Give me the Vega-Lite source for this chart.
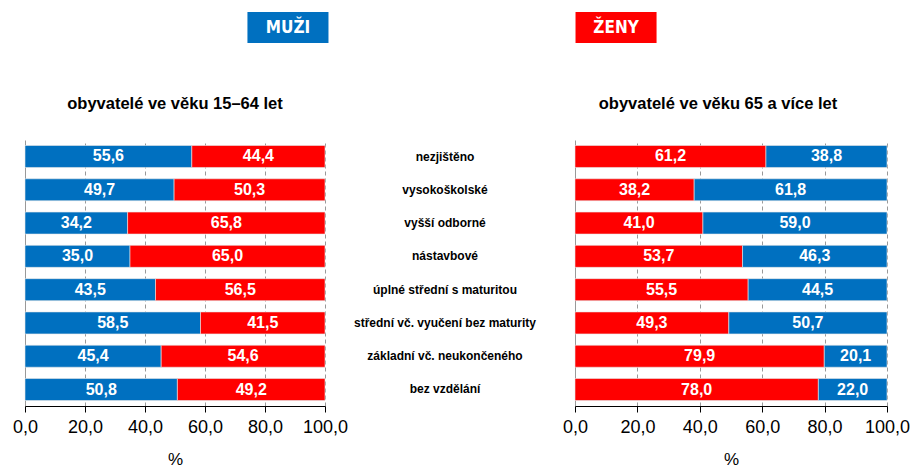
{
  "$schema": "https://vega.github.io/schema/vega-lite/v6.json",
  "padding": {"left": 12, "top": 12, "right": 0, "bottom": 0},
  "config": {
    "locale": {"number": {"decimal": ",", "thousands": " ", "grouping": [3], "currency": ["", " Kč"]}},
    "view": {"stroke": null},
    "font": "Liberation Sans"
  },
  "datasets": {
    "a": [
      {"cat": "nezjištěno", "sex": "muži", "o": 1, "v": 55.6},
      {"cat": "nezjištěno", "sex": "ženy", "o": 2, "v": 44.4},
      {"cat": "vysokoškolské", "sex": "muži", "o": 1, "v": 49.7},
      {"cat": "vysokoškolské", "sex": "ženy", "o": 2, "v": 50.3},
      {"cat": "vyšší odborné", "sex": "muži", "o": 1, "v": 34.2},
      {"cat": "vyšší odborné", "sex": "ženy", "o": 2, "v": 65.8},
      {"cat": "nástavbové", "sex": "muži", "o": 1, "v": 35.0},
      {"cat": "nástavbové", "sex": "ženy", "o": 2, "v": 65.0},
      {"cat": "úplné střední s maturitou", "sex": "muži", "o": 1, "v": 43.5},
      {"cat": "úplné střední s maturitou", "sex": "ženy", "o": 2, "v": 56.5},
      {"cat": "střední vč. vyučení bez maturity", "sex": "muži", "o": 1, "v": 58.5},
      {"cat": "střední vč. vyučení bez maturity", "sex": "ženy", "o": 2, "v": 41.5},
      {"cat": "základní vč. neukončeného", "sex": "muži", "o": 1, "v": 45.4},
      {"cat": "základní vč. neukončeného", "sex": "ženy", "o": 2, "v": 54.6},
      {"cat": "bez vzdělání", "sex": "muži", "o": 1, "v": 50.8},
      {"cat": "bez vzdělání", "sex": "ženy", "o": 2, "v": 49.2}
    ],
    "b": [
      {"cat": "nezjištěno", "sex": "ženy", "o": 1, "v": 61.2},
      {"cat": "nezjištěno", "sex": "muži", "o": 2, "v": 38.8},
      {"cat": "vysokoškolské", "sex": "ženy", "o": 1, "v": 38.2},
      {"cat": "vysokoškolské", "sex": "muži", "o": 2, "v": 61.8},
      {"cat": "vyšší odborné", "sex": "ženy", "o": 1, "v": 41.0},
      {"cat": "vyšší odborné", "sex": "muži", "o": 2, "v": 59.0},
      {"cat": "nástavbové", "sex": "ženy", "o": 1, "v": 53.7},
      {"cat": "nástavbové", "sex": "muži", "o": 2, "v": 46.3},
      {"cat": "úplné střední s maturitou", "sex": "ženy", "o": 1, "v": 55.5},
      {"cat": "úplné střední s maturitou", "sex": "muži", "o": 2, "v": 44.5},
      {"cat": "střední vč. vyučení bez maturity", "sex": "ženy", "o": 1, "v": 49.3},
      {"cat": "střední vč. vyučení bez maturity", "sex": "muži", "o": 2, "v": 50.7},
      {"cat": "základní vč. neukončeného", "sex": "ženy", "o": 1, "v": 79.9},
      {"cat": "základní vč. neukončeného", "sex": "muži", "o": 2, "v": 20.1},
      {"cat": "bez vzdělání", "sex": "ženy", "o": 1, "v": 78.0},
      {"cat": "bez vzdělání", "sex": "muži", "o": 2, "v": 22.0}
    ],
    "c": [
      {"cat": "nezjištěno"},
      {"cat": "vysokoškolské"},
      {"cat": "vyšší odborné"},
      {"cat": "nástavbové"},
      {"cat": "úplné střední s maturitou"},
      {"cat": "střední vč. vyučení bez maturity"},
      {"cat": "základní vč. neukončeného"},
      {"cat": "bez vzdělání"}
    ],
    "h": [
      {"g": "MUŽI"},
      {"g": "ŽENY"}
    ]
  },
  "spacing": 52,
  "vconcat": [
    {
      "data": {"name": "h"},
      "width": 854,
      "height": 31,
      "layer": [
        {
          "mark": {"type": "bar"},
          "encoding": {
            "x": {"field": "g", "type": "nominal", "scale": {"domain": ["MUŽI", "ŽENY"], "paddingInner": 0.753, "paddingOuter": 0.678}, "axis": null},
            "color": {"field": "g", "type": "nominal", "scale": {"domain": ["MUŽI", "ŽENY"], "range": ["#0070C0", "#FF0000"]}, "legend": null}
          }
        },
        {
          "mark": {"type": "text", "color": "white", "fontWeight": "bold", "fontSize": 17, "font": "Liberation Sans Narrow, DejaVu Sans Condensed, Liberation Sans"},
          "encoding": {
            "x": {"field": "g", "type": "nominal", "axis": null},
            "text": {"field": "g"}
          }
        }
      ]
    },
    {
      "spacing": 0,
      "bounds": "flush",
      "hconcat": [
        {
          "data": {"name": "a"},
          "width": 300,
          "height": 266,
          "title": {"text": "obyvatelé ve věku 15–64 let", "fontSize": 16.5, "fontWeight": "bold", "anchor": "middle", "offset": 28, "font": "Liberation Sans"},
          "encoding": {
            "y": {"field": "cat", "type": "nominal", "sort": null, "scale": {"paddingInner": 0.34, "paddingOuter": 0.165}, "axis": null}
          },
          "layer": [
            {
              "mark": {"type": "bar", "stroke": "#e8e8e8", "strokeWidth": 0.6},
              "encoding": {
                "x": {"field": "v", "type": "quantitative", "stack": "zero", "scale": {"domain": [0, 100]},
                  "axis": {"values": [0, 20, 40, 60, 80, 100], "format": ".1f", "title": "%", "titleFontSize": 17, "titleFontWeight": "normal", "titleColor": "black", "labelFontSize": 18, "labelColor": "black", "domainColor": "black", "tickColor": "black", "tickSize": 6, "labelPadding": 6, "titlePadding": 15, "grid": true, "gridColor": "#999999", "gridDash": {"condition": {"test": "datum.value === 0", "value": []}, "value": [4, 3]}, "labelFlush": false}},
                "color": {"field": "sex", "type": "nominal", "scale": {"domain": ["muži", "ženy"], "range": ["#0070C0", "#FF0000"]}, "legend": null},
                "order": {"field": "o"}
              }
            },
            {
              "mark": {"type": "text", "color": "white", "fontWeight": "bold", "fontSize": 16},
              "encoding": {
                "x": {"field": "v", "type": "quantitative", "stack": "zero", "bandPosition": 0.5},
                "detail": {"field": "sex"},
                "order": {"field": "o"},
                "text": {"field": "v", "type": "quantitative", "format": ".1f"}
              }
            }
          ]
        },
        {
          "data": {"name": "c"},
          "width": 250,
          "height": 266,
          "mark": {"type": "text", "fontWeight": "bold", "fontSize": 12, "color": "black", "dx": -5},
          "encoding": {
            "y": {"field": "cat", "type": "nominal", "sort": null, "scale": {"paddingInner": 0.34, "paddingOuter": 0.165}, "axis": null},
            "text": {"field": "cat"}
          }
        },
        {
          "data": {"name": "b"},
          "width": 312,
          "height": 266,
          "title": {"text": "obyvatelé ve věku 65 a více let", "fontSize": 16.5, "fontWeight": "bold", "anchor": "middle", "offset": 28, "dx": -13, "font": "Liberation Sans"},
          "encoding": {
            "y": {"field": "cat", "type": "nominal", "sort": null, "scale": {"paddingInner": 0.34, "paddingOuter": 0.165}, "axis": null}
          },
          "layer": [
            {
              "mark": {"type": "bar", "stroke": "#e8e8e8", "strokeWidth": 0.6},
              "encoding": {
                "x": {"field": "v", "type": "quantitative", "stack": "zero", "scale": {"domain": [0, 100]},
                  "axis": {"values": [0, 20, 40, 60, 80, 100], "format": ".1f", "title": "%", "titleFontSize": 17, "titleFontWeight": "normal", "titleColor": "black", "labelFontSize": 18, "labelColor": "black", "domainColor": "black", "tickColor": "black", "tickSize": 6, "labelPadding": 6, "titlePadding": 15, "grid": true, "gridColor": "#999999", "gridDash": {"condition": {"test": "datum.value === 0", "value": []}, "value": [4, 3]}, "labelFlush": false}},
                "color": {"field": "sex", "type": "nominal", "scale": {"domain": ["muži", "ženy"], "range": ["#0070C0", "#FF0000"]}, "legend": null},
                "order": {"field": "o"}
              }
            },
            {
              "mark": {"type": "text", "color": "white", "fontWeight": "bold", "fontSize": 16},
              "encoding": {
                "x": {"field": "v", "type": "quantitative", "stack": "zero", "bandPosition": 0.5},
                "detail": {"field": "sex"},
                "order": {"field": "o"},
                "text": {"field": "v", "type": "quantitative", "format": ".1f"}
              }
            }
          ]
        }
      ]
    }
  ]
}
